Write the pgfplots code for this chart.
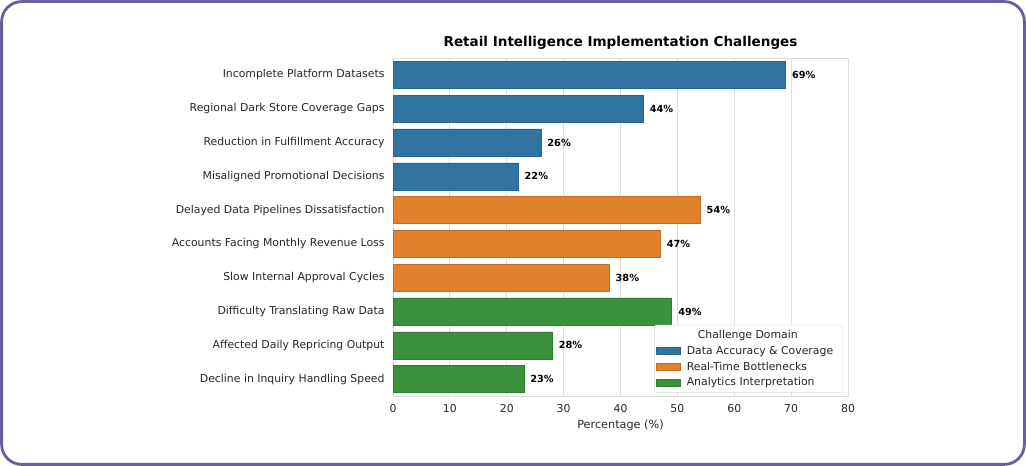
\documentclass[border=0pt]{standalone}
\usepackage{pgfplots}
\pgfplotsset{compat=1.18}
\usepackage{fontspec}
\setmainfont{DejaVu Sans}
\definecolor{cblue}{HTML}{3274A1}
\definecolor{corange}{HTML}{E1812C}
\definecolor{cgreen}{HTML}{3A923A}
\definecolor{frame}{HTML}{6A5F9E}
\definecolor{txt}{HTML}{262626}
\definecolor{gridc}{HTML}{DDDDDD}
\begin{document}
\begin{tikzpicture}[x=1bp,y=1bp]
\path[use as bounding box] (0,0) rectangle (1026,466);
\draw[frame, line width=2.8bp, rounded corners=20bp] (1.6,1.6) rectangle (1024.4,464.4);
\begin{axis}[
  at={(393bp,70bp)}, anchor=south west,
  scale only axis, width=455bp, height=338bp,
  xmin=0, xmax=80, ymin=-0.5, ymax=9.5,
  y dir=reverse,
  xbar, bar width=27bp, bar shift=0pt,
  xtick={0,10,...,80},
  ytick={0,...,9},
  yticklabels={Incomplete Platform Datasets,Regional Dark Store Coverage Gaps,Reduction in Fulfillment Accuracy,Misaligned Promotional Decisions,Delayed Data Pipelines Dissatisfaction,Accounts Facing Monthly Revenue Loss,Slow Internal Approval Cycles,Difficulty Translating Raw Data,Affected Daily Repricing Output,Decline in Inquiry Handling Speed},
  major tick length=0pt,
  xmajorgrids, grid style={gridc, line width=0.9bp},
  axis line style={gridc, line width=0.9bp},
  ticklabel style={font=\fontsize{10.9}{12}\selectfont, text=txt},
  /pgf/number format/assume math mode=true,
  xticklabel style={yshift=-5bp},
  yticklabel style={xshift=-5bp},
  xlabel={Percentage (\%)},
  xlabel style={font=\fontsize{11.3}{13}\selectfont, text=txt, yshift=0bp},
  title={Retail Intelligence Implementation Challenges},
  title style={font=\bfseries\fontsize{13.6}{15}\selectfont, text=black, yshift=-1bp},
  nodes near coords={\textbf{\pgfmathprintnumber{\pgfplotspointmeta}\%}},
  point meta=x,
  nodes near coords style={font=\fontsize{9.8}{11}\selectfont, text=black, anchor=west, xshift=3bp},
  legend style={at={(0.989,0.01)}, anchor=south east, draw=gridc, rounded corners=2bp,
    font=\fontsize{10.9}{12}\selectfont, text=txt, row sep=2.2bp, inner xsep=2bp, inner ysep=3bp},
  legend cell align=left,
  legend image code/.code={\fill[#1, sharp corners] (0bp,-3.5bp) rectangle (24bp,3.5bp); \path (28bp,0bp);},
]
\addlegendimage{empty legend}
\addlegendentry{\hspace{-30bp}\makebox[182bp][c]{Challenge Domain}}
\addplot[fill=cblue, draw=cblue!85!black, line width=0.5bp] coordinates {(69,0) (44,1) (26,2) (22,3)};
\addlegendentry{Data Accuracy \& Coverage}
\addplot[fill=corange, draw=corange!85!black, line width=0.5bp] coordinates {(54,4) (47,5) (38,6)};
\addlegendentry{Real-Time Bottlenecks}
\addplot[fill=cgreen, draw=cgreen!85!black, line width=0.5bp] coordinates {(49,7) (28,8) (23,9)};
\addlegendentry{Analytics Interpretation}
\end{axis}
\end{tikzpicture}
\end{document}
